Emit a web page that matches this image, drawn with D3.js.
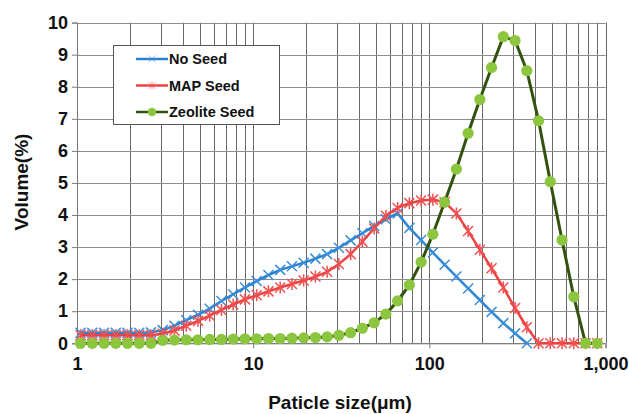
<!DOCTYPE html>
<html>
<head>
<meta charset="utf-8">
<script src="https://cdn.jsdelivr.net/npm/d3@7"></script>
<style>
  body { margin: 0; background: #fff; }
  svg { display: block; font-family: 'Liberation Sans', Arial, sans-serif; }
</style>
</head>
<body>
<svg width="629" height="414"></svg>
<script>
// particle size classes (um), 15 per decade
const sizes = [1.047, 1.221, 1.424, 1.660, 1.935, 2.256, 2.630, 3.067, 3.576, 4.169,
  4.861, 5.667, 6.607, 7.704, 8.982, 10.47, 12.21, 14.24, 16.60, 19.35,
  22.56, 26.30, 30.67, 35.76, 41.69, 48.61, 56.67, 66.07, 77.04, 89.82,
  104.7, 122.1, 142.4, 166.0, 193.5, 225.6, 263.0, 306.7, 357.6, 416.9,
  486.1, 566.7, 660.7, 770.4, 898.2]

const noSeed = [0.33, 0.33, 0.33, 0.33, 0.33, 0.33, 0.34, 0.41, 0.55, 0.72,
  0.89, 1.08, 1.32, 1.53, 1.74, 1.94, 2.13, 2.29, 2.40, 2.51,
  2.64, 2.78, 2.98, 3.21, 3.43, 3.66, 3.87, 4.05, 3.60, 3.22,
  2.83, 2.45, 2.08, 1.71, 1.35, 0.98, 0.63, 0.31, 0]

const mapSeed = [0.25, 0.25, 0.25, 0.25, 0.25, 0.25, 0.25, 0.30, 0.40, 0.55,
  0.70, 0.86, 1.04, 1.21, 1.37, 1.50, 1.62, 1.74, 1.85, 1.96,
  2.08, 2.23, 2.47, 2.78, 3.17, 3.58, 3.98, 4.22, 4.37, 4.45,
  4.48, 4.40, 4.05, 3.50, 2.92, 2.34, 1.74, 1.10, 0.50, 0,
  0, 0, 0, 0, 0]

const zeoliteSeed = [0, 0, 0, 0, 0, 0, 0, 0.09, 0.10, 0.11,
  0.11, 0.12, 0.12, 0.13, 0.14, 0.14, 0.15, 0.15, 0.16, 0.17,
  0.18, 0.20, 0.25, 0.33, 0.47, 0.64, 0.91, 1.32, 1.82, 2.53,
  3.40, 4.40, 5.43, 6.55, 7.60, 8.60, 9.56, 9.44, 8.50, 6.94,
  5.04, 3.22, 1.45, 0, 0]

const xTicks = [1, 10, 100, 1000]
const xTickLabels = ['1', '10', '100', '1,000']
const yTicks = [0, 1, 2, 3, 4, 5, 6, 7, 8, 9, 10]

const series = [
  { name: 'No Seed', values: noSeed, line: '#2a82d2', marker: 'cross', mark: '#3a8ed8' },
  { name: 'MAP Seed', values: mapSeed, line: '#ee4242', marker: 'star', mark: '#f05050' },
  { name: 'Zeolite Seed', values: zeoliteSeed, line: '#33520f', marker: 'circle', mark: '#8cc63f' },
]

const svg = d3.select('svg')

const x = d3.scaleLog().
  domain([1, 1000]).
  range([77, 605.5])

const y = d3.scaleLinear().
  domain([0, 10]).
  range([343.3, 22.6])

// grid
const grid = svg.append('g')

grid.
  selectAll('line.v').
  data(x.ticks()).
  enter().
  append('line').
  attr('x1', d => Math.round(x(d)) + 0.5).
  attr('x2', d => Math.round(x(d)) + 0.5).
  attr('y1', y(10)).
  attr('y2', y(0)).
  attr('stroke', '#686868').
  attr('stroke-width', 1)

grid.
  selectAll('line.h').
  data(yTicks).
  enter().
  append('line').
  attr('x1', x(1)).
  attr('x2', x(1000)).
  attr('y1', d => Math.round(y(d)) + 0.5).
  attr('y2', d => Math.round(y(d)) + 0.5).
  attr('stroke', '#8c8c8c').
  attr('stroke-width', 1)

// axes
const yAxis = d3.axisLeft(y).
  tickValues(yTicks).
  tickSize(5).
  tickPadding(4)

svg.append('g').
  attr('transform', `translate(${x(1)},0)`).
  call(yAxis).
  call(g => g.select('.domain').attr('stroke', '#7a7a7a')).
  call(g => g.selectAll('.tick line').attr('stroke', '#7a7a7a')).
  call(g => g.selectAll('text').
    attr('font-size', 18).
    attr('font-weight', 'bold').
    attr('fill', '#111'))

const xAxis = d3.axisBottom(x).
  tickValues(xTicks).
  tickFormat((d, i) => xTickLabels[i]).
  tickSize(5).
  tickPadding(9)

svg.append('g').
  attr('transform', `translate(0,${y(0)})`).
  call(xAxis).
  call(g => g.select('.domain').attr('stroke', '#7a7a7a')).
  call(g => g.selectAll('.tick line').attr('stroke', '#7a7a7a')).
  call(g => g.selectAll('text').
    attr('font-size', 18).
    attr('font-weight', 'bold').
    attr('fill', '#111'))

// axis titles
svg.append('text').
  attr('transform', `translate(28,182) rotate(-90)`).
  attr('text-anchor', 'middle').
  attr('font-size', 19).
  attr('font-weight', 'bold').
  attr('fill', '#111').
  text('Volume(%)')

svg.append('text').
  attr('x', 340).
  attr('y', 409).
  attr('text-anchor', 'middle').
  attr('font-size', 19).
  attr('font-weight', 'bold').
  attr('fill', '#111').
  text('Paticle size(μm)')

// marker shapes
const markerPath = (type, r) => {
  if (type === 'cross') return `M${-r},${-r}L${r},${r}M${-r},${r}L${r},${-r}`
  if (type === 'star') return `M${-r},${-r}L${r},${r}M${-r},${r}L${r},${-r}M0,${-r * 1.2}L0,${r * 1.2}`
  return null
}

const line = d3.line().
  x(d => x(d.size)).
  y(d => y(d.value))

series.forEach(s => {
  const pts = s.values.map((v, i) => ({ size: sizes[i], value: v }))
  const g = svg.append('g')

  g.append('path').
    attr('d', line(pts)).
    attr('fill', 'none').
    attr('stroke', s.line).
    attr('stroke-width', s.marker === 'circle' ? 3 : 2.5)

  if (s.marker === 'circle') {
    g.selectAll('circle').
      data(pts).
      enter().
      append('circle').
      attr('cx', d => x(d.size)).
      attr('cy', d => y(d.value)).
      attr('r', 5.6).
      attr('fill', s.mark)
  } else {
    g.selectAll('path.m').
      data(pts).
      enter().
      append('path').
      attr('class', 'm').
      attr('transform', d => `translate(${x(d.size)},${y(d.value)})`).
      attr('d', markerPath(s.marker, 5)).
      attr('stroke', s.mark).
      attr('stroke-width', 1.5).
      attr('fill', 'none')
  }
})

// legend
const legend = svg.append('g')

legend.append('rect').
  attr('x', 113.5).
  attr('y', 45.5).
  attr('width', 166).
  attr('height', 79).
  attr('fill', '#fff').
  attr('stroke', '#555').
  attr('stroke-width', 1)

const item = legend.
  selectAll('g.item').
  data(series).
  enter().
  append('g').
  attr('transform', (d, i) => `translate(0,${59 + i * 26.5})`)

item.append('line').
  attr('x1', 136).
  attr('x2', 168).
  attr('stroke', d => d.line).
  attr('stroke-width', 2.5)

item.filter(d => d.marker !== 'circle').
  append('path').
  attr('transform', 'translate(152,0)').
  attr('d', d => markerPath(d.marker, 3.5)).
  attr('stroke', d => d.mark).
  attr('stroke-opacity', 0.55).
  attr('stroke-width', 1).
  attr('fill', 'none')

item.filter(d => d.marker === 'circle').
  append('circle').
  attr('cx', 152).
  attr('r', 4.2).
  attr('fill', d => d.mark)

item.append('text').
  attr('x', 169).
  attr('y', 5).
  attr('font-size', 14.5).
  attr('font-weight', 'bold').
  attr('fill', '#111').
  text(d => d.name)
</script>
</body>
</html>
